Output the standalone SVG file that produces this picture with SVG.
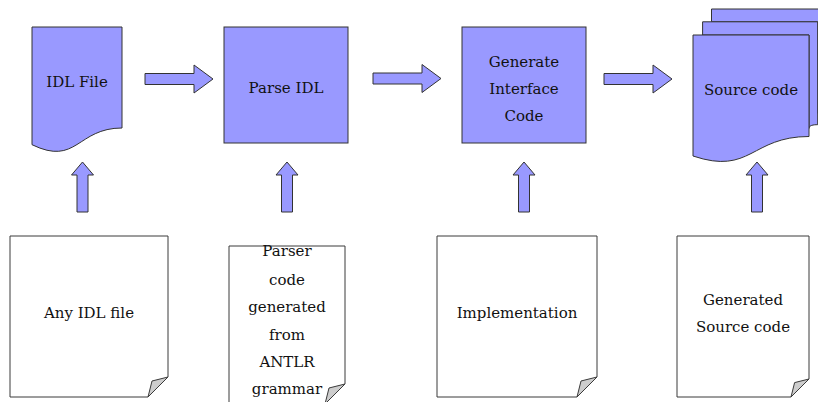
<svg xmlns="http://www.w3.org/2000/svg" xmlns:xlink="http://www.w3.org/1999/xlink" width="818" height="402" viewBox="0 0 818 402">
  <style>
    .shape { fill: #9999ff; stroke: #333333; stroke-width: 1; stroke-linejoin: miter; }
    .note { fill: #ffffff; stroke: none; }
    .note-edge { fill: none; stroke: #3a3a3a; stroke-width: 1; }
    .fold { fill: #cdcdcd; stroke: none; }
    .label { font-family: "DejaVu Serif", "Liberation Serif", serif; font-size: 15px; fill: #111111; text-anchor: middle; }
  </style>
  <defs>
    <!-- block arrow pointing right, origin at tail centre -->
    <path id="arrow-right" d="M0,-5.5 H49 V-14 L68,0 L49,14 V5.5 H0 Z"/>
    <!-- block arrow pointing up, origin at tip -->
    <path id="arrow-up" d="M0,0 L11,13 H5.5 V50 H-5.5 V13 H-11 Z"/>
  </defs>

  <rect x="0" y="0" width="818" height="402" fill="#ffffff"/>

  <!-- top row -->
  <g id="idl-file">
    <path class="shape" d="M32,27 H122 V128 C77,128 77,166.5 32,144.7 Z"/>
    <text class="label" x="77" y="87">IDL File</text>
  </g>

  <g id="parse-idl">
    <rect class="shape" x="224" y="27" width="124" height="116"/>
    <text class="label" x="286" y="93">Parse IDL</text>
  </g>

  <g id="generate-interface-code">
    <rect class="shape" x="462" y="27" width="124" height="116"/>
    <text class="label" x="524" y="66.5">Generate</text>
    <text class="label" x="524" y="93.5">Interface</text>
    <text class="label" x="524" y="120.5">Code</text>
  </g>

  <g id="source-code">
    <!-- back sheet -->
    <path class="shape" d="M711.5,21.8 V9 H827.7 V110.8 C822.7,110.8 817.7,112.3 817.7,113.2 V21.8 Z"/>
    <!-- middle sheet -->
    <path class="shape" d="M702.6,35 V21.8 H817.7 V124.7 C813.3,124.7 809,125.3 809,128.4 V35 Z"/>
    <!-- front sheet -->
    <path class="shape" d="M693,156 C751,175.5 751,136.5 809,136.5 V35 H693 Z"/>
    <text class="label" x="751" y="95">Source code</text>
  </g>

  <!-- bottom row: sheets with a folded corner -->
  <g id="any-idl-file">
    <path class="note" d="M10,236 H168 V377 L148,397 H10 Z"/>
    <path class="fold" d="M148,397 L152,381 L168,377 Z"/>
    <path class="note-edge" d="M148,397 L152,381 L168,377 L148,397 H10 V236 H168 V377"/>
    <text class="label" x="89" y="318">Any IDL file</text>
  </g>

  <g id="parser-code">
    <path class="note" d="M229,246 H345 V384 L325,404 H229 Z"/>
    <path class="fold" d="M325,404 L329,388 L345,384 Z"/>
    <path class="note-edge" d="M325,404 L329,388 L345,384 L325,404 H229 V246 H345 V384"/>
    <text class="label" x="287" y="256">Parser</text>
    <text class="label" x="287" y="285">code</text>
    <text class="label" x="287" y="312">generated</text>
    <text class="label" x="287" y="340">from</text>
    <text class="label" x="287" y="367">ANTLR</text>
    <text class="label" x="287" y="394">grammar</text>
  </g>

  <g id="implementation">
    <path class="note" d="M437,236 H597 V377 L577,397 H437 Z"/>
    <path class="fold" d="M577,397 L581,381 L597,377 Z"/>
    <path class="note-edge" d="M577,397 L581,381 L597,377 L577,397 H437 V236 H597 V377"/>
    <text class="label" x="517" y="318">Implementation</text>
  </g>

  <g id="generated-source-code">
    <path class="note" d="M677,236 H809 V379 L791,397 H677 Z"/>
    <path class="fold" d="M791,397 L794.6,382.6 L809,379 Z"/>
    <path class="note-edge" d="M791,397 L794.6,382.6 L809,379 L791,397 H677 V236 H809 V379"/>
    <text class="label" x="743" y="305">Generated</text>
    <text class="label" x="743" y="332">Source code</text>
  </g>

  <!-- connectors -->
  <g id="connectors" class="shape">
    <use xlink:href="#arrow-right" x="145" y="79"/>
    <use xlink:href="#arrow-right" x="373" y="78.5"/>
    <use xlink:href="#arrow-right" x="604" y="79"/>
    <use xlink:href="#arrow-up" x="82.5" y="162"/>
    <use xlink:href="#arrow-up" x="287" y="162"/>
    <use xlink:href="#arrow-up" x="524" y="162"/>
    <use xlink:href="#arrow-up" x="757" y="162"/>
  </g>
</svg>
